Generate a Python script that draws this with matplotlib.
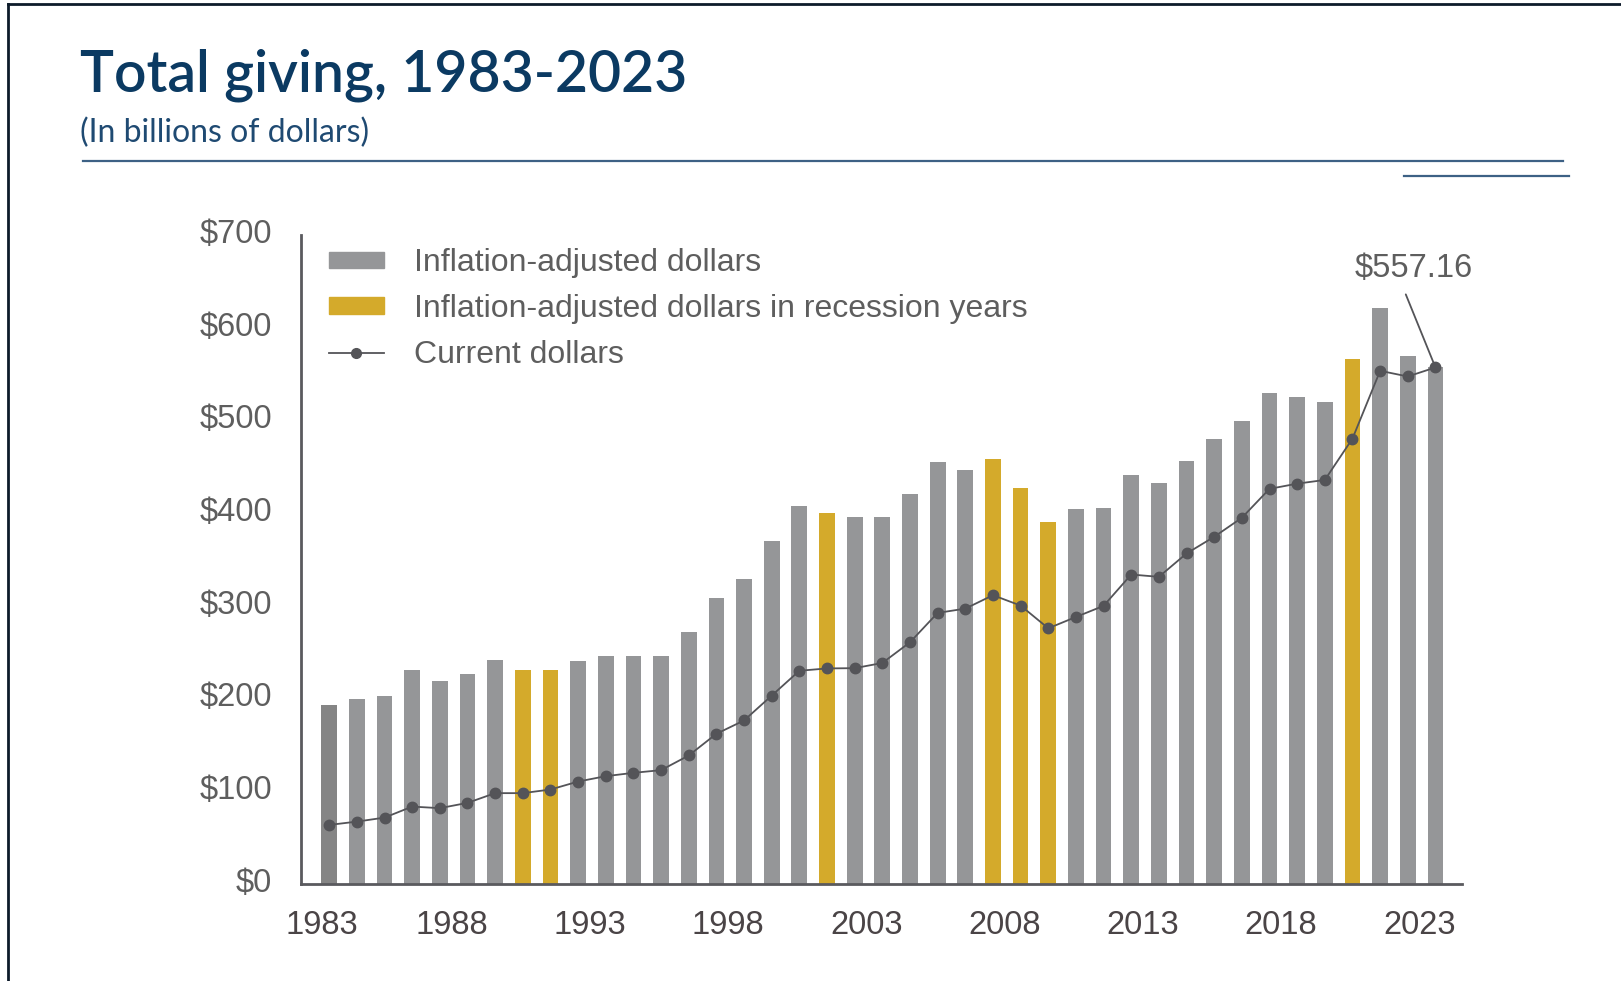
import matplotlib
matplotlib.use("Agg")
import matplotlib.pyplot as plt
from matplotlib.patches import Patch
from matplotlib.lines import Line2D
from matplotlib.transforms import ScaledTranslation

# data (billions of dollars)
years = list(range(1983, 2024))
adjusted = [193, 199.5, 203, 230.5, 218.5, 226, 242, 230.5, 230.5, 241, 246, 246, 246,
            272, 308, 329.5, 370, 408, 400.5, 395.5,
            395.5, 421, 455.5, 446, 458, 427.5, 390, 404, 406, 441.5, 432,
            456, 480, 499, 530, 525, 519.5, 566, 621, 570, 558]
current = [63.7, 67.3, 71.6, 83.5, 81.8, 87.5, 98, 98, 101.9, 110.5, 116.3, 119.9, 122.8,
           138.6, 162, 176.4, 203.2, 230, 232.5, 232.8,
           238.4, 260.7, 292.4, 297, 311.5, 300.3, 275.8, 288, 300, 333.8, 331.3,
           356.5, 374.5, 395, 426.2, 431.8, 435.8, 480.4, 553.5, 547.4, 557.16]
recession_years = [1990, 1991, 2001, 2007, 2008, 2009, 2020]
tick_years = [1983, 1988, 1993, 1998, 2003, 2008, 2013, 2018, 2023]
y_ticks = [0, 100, 200, 300, 400, 500, 600, 700]

GRAY = "#959698"
GOLD = "#D4AA2B"
LINE = "#545458"
NAVY = "#0B3A62"
TXT = "#5e5e5e"

fig = plt.figure(figsize=(16.21, 9.81), dpi=100)

# title block
fig.text(0.0494, 0.9072, "Total giving, 1983-2023", fontfamily="Lato", fontweight="semibold",
         fontsize=41, color=NAVY, va="baseline")
fig.text(0.0494, 0.8552, "(In billions of dollars)", fontfamily="Lato", fontsize=23,
         color="#1F4A72", va="baseline")
fig.add_artist(Line2D([83 / 1621, 1563 / 1621], [1 - 161 / 981] * 2, color="#3D6185", lw=1.6))
fig.add_artist(Line2D([1404 / 1621, 1569 / 1621], [1 - 175.5 / 981] * 2, color="#3D6185", lw=1.6))
# frame edges
fig.add_artist(Line2D([8 / 1621, 1], [1 - 4 / 981] * 2, color="#0D1B2A", lw=2))
fig.add_artist(Line2D([8 / 1621] * 2, [0, 1 - 4 / 981], color="#0D1B2A", lw=2))

ax = fig.add_axes([301 / 1621, 97 / 981, 1161 / 1621, 649 / 981])

colors = [GOLD if y in recession_years else GRAY for y in years]
colors[0] = "#858585"
ax.bar(years, adjusted, width=0.57, color=colors, zorder=2)
ax.plot(years, current, color=LINE, lw=1.3, marker="o", markersize=7.5, zorder=3)

ax.set_xlim(1981.98, 2023.96)
ax.set_ylim(0, 700)

for s in ["top", "right"]:
    ax.spines[s].set_visible(False)
for s in ["left", "bottom"]:
    ax.spines[s].set_color("#5a5a5e")
    ax.spines[s].set_linewidth(2)

ax.set_yticks(y_ticks)
ax.set_yticklabels([f"${v}" for v in y_ticks])
ax.set_xticks([y - 0.58 for y in tick_years])
ax.set_xticklabels([str(y) for y in tick_years])
ax.tick_params(axis="y", length=0, pad=21, labelsize=23.5, labelcolor=TXT)
ax.tick_params(axis="x", length=0, pad=19, labelsize=23.5, labelcolor="#4a4446")
for lab in ax.get_yticklabels() + ax.get_xticklabels():
    lab.set_fontfamily("Liberation Sans")
for lab in ax.get_yticklabels():
    lab.set_transform(lab.get_transform() + ScaledTranslation(0, 3 / 72, fig.dpi_scale_trans))
first = ax.get_xticklabels()[0]
first.set_transform(first.get_transform() + ScaledTranslation(6 / 72, 0, fig.dpi_scale_trans))

# annotation for the last point
ax.annotate(f"${current[-1]:.2f}", xy=(years[-1], current[-1]), xytext=(2022.2, 664),
            ha="center", va="center", fontsize=23.5, color=TXT, fontfamily="Liberation Sans",
            arrowprops=dict(arrowstyle="-", color=LINE, lw=1.3, relpos=(0.4, 0),
                            shrinkA=6, shrinkB=0))

handles = [Patch(color=GRAY), Patch(color=GOLD),
           Line2D([], [], color=LINE, lw=1.3, marker="o", markersize=7)]
labels = ["Inflation-adjusted dollars", "Inflation-adjusted dollars in recession years",
          "Current dollars"]
ax.legend(handles, labels, loc="upper left", bbox_to_anchor=(329 / 1621, 1 - 248 / 981),
          bbox_transform=fig.transFigure, frameon=False, borderpad=0, borderaxespad=0,
          handlelength=1.72, handleheight=0.4, handletextpad=0.95, labelspacing=0.5,
          prop={"family": "Liberation Sans", "size": 23}, labelcolor=TXT)

fig.savefig("out.png", dpi=100)
